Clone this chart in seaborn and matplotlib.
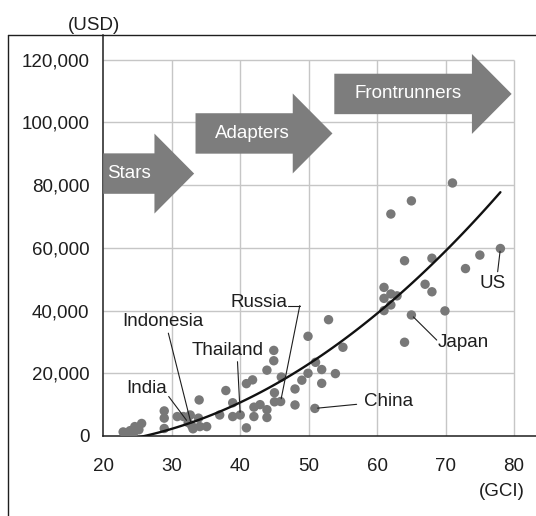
import matplotlib
matplotlib.use("Agg")
import matplotlib.pyplot as plt
import seaborn as sns
import pandas as pd
from matplotlib.patches import FancyArrow
from matplotlib.lines import Line2D

# GCI score vs GDP per capita (USD), one dot per country
gci = [22.9, 23.4, 23.9, 24.4, 24.6, 25.6, 25.2,
       28.9, 28.9, 28.9, 30.8, 31.7, 32.7, 33.9, 34.0, 32.4, 32.9, 33.1, 34.1, 35.1,
       37.0, 37.9, 38.9, 38.9, 40.0, 40.9, 40.9, 41.8, 42.0, 42.0,
       42.9, 43.9, 43.9, 43.9, 44.9, 44.9, 45.0, 45.0, 45.9, 46.0,
       48.0, 48.0, 49.0, 49.9, 49.9, 51.0, 50.9, 51.9, 51.9, 52.9, 53.9, 55.0,
       61.0, 62.0, 62.9, 61.0, 62.0, 61.0, 64.0, 65.0, 64.0, 62.0, 65.0,
       67.0, 68.0, 68.0, 69.9, 71.0, 72.9, 75.0, 78.0]
usd = [1300, 800, 1700, 900, 3000, 4000, 2000,
       8000, 5700, 2400, 6200, 6200, 6700, 5700, 11500, 4300, 3300, 2300, 3000, 3000,
       6700, 14500, 6200, 10600, 6700, 2600, 16700, 17900, 9200, 6200,
       10000, 8400, 5900, 21000, 27300, 24000, 13800, 10900, 11000, 18800,
       9900, 15000, 17800, 20000, 31800, 23500, 8800, 21200, 16800, 37100, 19900, 28300,
       47400, 45300, 44700, 43900, 41800, 40000, 55900, 38600, 29900, 70800, 75000,
       48400, 46000, 56700, 39900, 80700, 53400, 57700, 59800]

# trend curve (quadratic trendline)
trend_gci = [23, 30, 40, 50, 60, 70, 78]
trend_usd = [-800, 1800, 10500, 22500, 39500, 60000, 77000]

# labelled countries (index into the lists above)
country_names = ["India", "Indonesia", "Thailand", "Russia", "China", "Japan", "US"]
country_idx = [15, 16, 24, 38, 46, 59, 70]

# development stages shown as arrows
stages = ["Stars", "Adapters", "Frontrunners"]
stage_start = [20.0, 33.47, 53.74]
stage_end = [33.27, 53.47, 79.64]
stage_level = [83700, 96500, 109100]

x_ticks = [20, 30, 40, 50, 60, 70, 80]
y_ticks = [0, 20000, 40000, 60000, 80000, 100000, 120000]

DOT = "#787878"
ARROW = "#7d7d7d"
GRID = "#c6c6c6"
INK = "#1e1e1e"

sns.set_style("white")
plt.rcParams["font.family"] = ["Liberation Sans", "DejaVu Sans"]

df = pd.DataFrame({"gci": gci, "usd": usd})
trend = pd.DataFrame({"gci": trend_gci, "usd": trend_usd})

fig = plt.figure(figsize=(5.36, 5.16), dpi=100)
ax = fig.add_axes([103.3 / 536, 80 / 516, 1 - 103.3 / 536, 401 / 516])

# grid only inside the 20-80 / 0-120k box
ax.vlines(x_ticks[1:], y_ticks[0], y_ticks[-1], color=GRID, lw=1.0, zorder=0)
ax.hlines(y_ticks[1:], x_ticks[0], x_ticks[-1], color=GRID, lw=1.0, zorder=0)

sns.scatterplot(data=df, x="gci", y="usd", color=DOT, s=46, edgecolor="none",
                ax=ax, zorder=3, legend=False)
sns.regplot(data=trend, x="gci", y="usd", order=2, ci=None, scatter=False,
            line_kws=dict(color="#111111", lw=1.7, zorder=4), ax=ax)

for name, x0, x1, lvl in zip(stages, stage_start, stage_end, stage_level):
    ax.add_patch(FancyArrow(x0, lvl, x1 - x0, 0, width=12900, head_width=25500,
                            head_length=5.8, length_includes_head=True,
                            color=ARROW, lw=0, zorder=5))
label_x = [23.7, 41.7, 64.5]
for name, lx, lvl in zip(stages, label_x, stage_level):
    ax.text(lx, lvl, name, color="white", fontsize=13.5, ha="center",
            va="center", zorder=6)

# country call-outs: text position, leader start, alignment
label_pos = [(26.4, 15200), (28.7, 36500), (38.1, 27200), (42.8, 42700),
             (58.1, 10900), (68.9, 29900), (76.9, 48700)]
leader_from = [(29.55, 12600), (29.5, 32800), (39.6, 23700), (48.7, 41600),
               (57.0, 10100), (68.7, 30600), (77.6, 52400)]
label_ha = ["center", "center", "center", "center", "left", "left", "center"]

for name, i, (tx, ty), (lx, ly), ha in zip(country_names, country_idx, label_pos,
                                           leader_from, label_ha):
    ax.text(tx, ty, name, fontsize=13.5, ha=ha, va="center", color=INK, zorder=6)
    ax.annotate("", xy=(gci[i], usd[i]), xytext=(lx, ly),
                arrowprops=dict(arrowstyle="-", color=INK, lw=0.8,
                                shrinkA=0, shrinkB=2), zorder=6)
# Russia has a small horizontal stub after its label
ax.plot([47.0, 48.7], [41600, 41600], color=INK, lw=0.8, zorder=6)

ax.set_xlim(20, 83.2)
ax.set_ylim(0, 127900)
ax.set_xticks(x_ticks)
ax.set_yticks(y_ticks)
ax.set_yticklabels([f"{v:,}" for v in y_ticks])
ax.set_xlabel("")
ax.set_ylabel("")
ax.tick_params(axis="both", length=0, labelsize=13.5, colors=INK)
ax.tick_params(axis="x", pad=16)
ax.tick_params(axis="y", pad=10)
for side in ["top", "right"]:
    ax.spines[side].set_visible(False)
for side in ["left", "bottom"]:
    ax.spines[side].set_color(INK)
    ax.spines[side].set_linewidth(1.1)

fig.text(94 / 536, 1 - 25 / 516, "(USD)", fontsize=13.5, ha="center",
         va="center", color=INK)
fig.text(525 / 536, 1 - 491 / 516, "(GCI)", fontsize=13.5, ha="right",
         va="center", color=INK)

# outer frame (open on the right and bottom)
fx = 8.2 / 536
fy = 481 / 516
fig.add_artist(Line2D([fx, fx], [0, fy], transform=fig.transFigure, color=INK, lw=1.0))
fig.add_artist(Line2D([fx, 1], [fy, fy], transform=fig.transFigure, color=INK, lw=1.0))

fig.savefig("out.png", dpi=100)
